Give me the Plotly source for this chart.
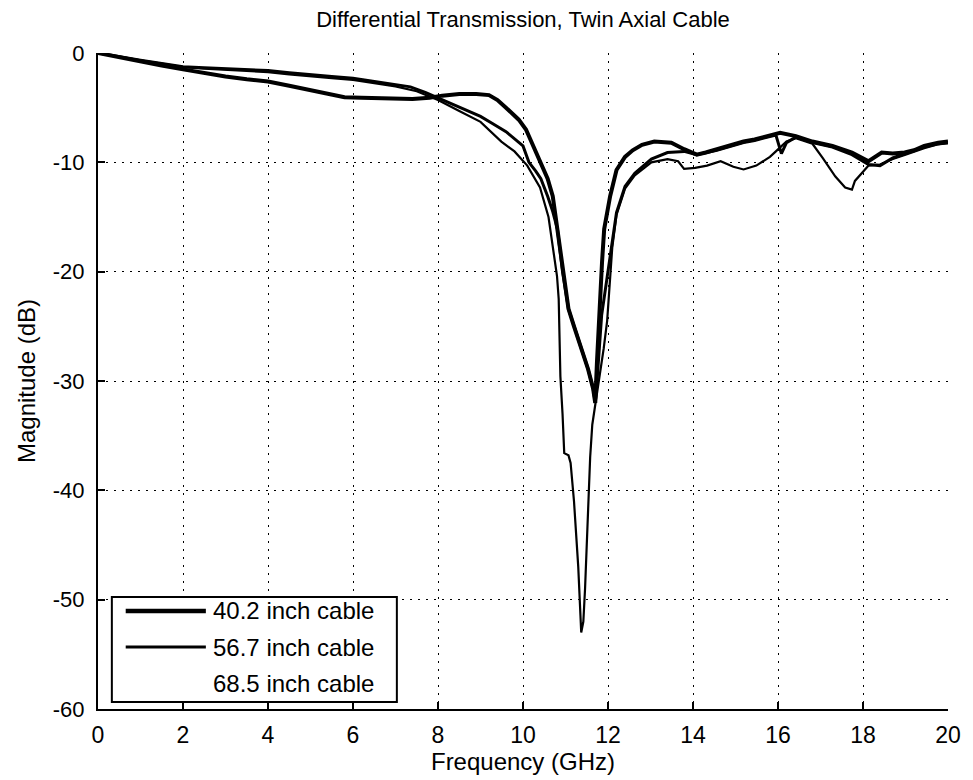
import plotly.graph_objects as go

# ---------------- data ----------------
freq_40 = [0, 0.5, 1, 1.5, 2, 2.5, 3, 3.5, 4, 4.5, 5, 5.5, 5.8, 6.2, 6.6, 7.0, 7.4, 7.8,
           8.1, 8.5, 8.9, 9.2, 9.4, 9.6, 9.9, 10.07, 10.2, 10.42, 10.58, 10.7, 10.81,
           10.93, 11.07, 11.2, 11.35, 11.53, 11.65, 11.7, 11.74, 11.81, 11.86, 11.91,
           12.05, 12.2, 12.4, 12.58, 12.8, 13.09, 13.49, 13.79, 14.09, 14.3, 14.56,
           14.9, 15.19, 15.45, 15.72, 16.05, 16.42, 16.81, 17.28, 17.74, 18.13, 18.44,
           18.7, 18.98, 19.2, 19.44, 19.77, 20]
mag_40 = [0, -0.4, -0.75, -1.15, -1.5, -1.85, -2.15, -2.4, -2.6, -3.0, -3.4, -3.8, -4.05,
          -4.1, -4.15, -4.2, -4.2, -4.1, -3.9, -3.75, -3.75, -3.85, -4.3, -5.0, -6.1,
          -7.0, -8.2, -10.0, -11.5, -13.1, -16.1, -20.0, -23.4, -25.0, -26.8, -28.9,
          -30.7, -32.0, -28.3, -22.2, -19.1, -16.1, -13.1, -10.7, -9.5, -8.9, -8.4,
          -8.1, -8.2, -8.8, -9.3, -9.1, -8.8, -8.4, -8.1, -7.9, -7.6, -7.3, -7.6, -8.1,
          -8.5, -9.1, -9.9, -9.1, -9.2, -9.1, -8.9, -8.5, -8.2, -8.1]

freq_56 = [0, 0.5, 1, 1.5, 2, 2.5, 3, 3.5, 4, 4.5, 5, 5.5, 6, 6.5, 7, 7.35, 7.7, 8.0,
           8.5, 9.0, 9.3, 9.6, 10.0, 10.14, 10.3, 10.42, 10.58, 10.7, 10.81, 10.93,
           11.07, 11.2, 11.35, 11.53, 11.65, 11.7, 11.76, 11.85, 11.98, 12.09, 12.2,
           12.4, 12.63, 13.02, 13.4, 13.79, 14.09, 14.56, 14.9, 15.19, 15.45, 15.72,
           15.95, 16.08, 16.2, 16.42, 16.81, 17.28, 17.74, 18.13, 18.4, 18.7, 18.98,
           19.44, 19.77, 20]
mag_56 = [0, -0.35, -0.65, -0.95, -1.25, -1.35, -1.45, -1.5, -1.6, -1.8, -2.0, -2.15,
          -2.3, -2.6, -2.9, -3.1, -3.6, -4.1, -5.0, -5.8, -6.5, -7.2, -8.5, -10.0,
          -10.8, -11.5, -13.1, -14.5, -16.1, -20.0, -23.4, -25.0, -26.8, -28.9, -30.7,
          -32.0, -29.0, -24.0, -20.5, -17.6, -14.6, -12.2, -11.0, -9.7, -9.1, -9.0,
          -9.3, -8.9, -8.5, -8.2, -8.0, -7.7, -7.5, -9.2, -8.2, -7.7, -8.2, -8.6, -9.3,
          -10.2, -10.3, -9.6, -9.2, -8.6, -8.3, -8.2]

freq_68 = [0, 0.5, 1, 1.5, 2, 2.5, 3, 3.5, 4, 4.5, 5, 5.5, 6, 6.5, 7, 7.5, 8.0, 8.5,
           9.0, 9.49, 9.8, 10.1, 10.4, 10.6, 10.8, 10.84, 10.88, 10.93, 10.97, 11.07,
           11.12, 11.2, 11.3, 11.37, 11.42, 11.46, 11.5, 11.54, 11.58, 11.63, 11.75,
           11.9, 11.98, 12.03, 12.1, 12.2, 12.4, 12.63, 13.02, 13.4, 13.65, 13.79,
           14.05, 14.33, 14.65, 14.95, 15.19, 15.49, 15.81, 15.95, 16.2, 16.42, 16.81,
           17.05, 17.35, 17.58, 17.74, 17.81, 17.98, 18.13, 18.4, 18.7, 19.0, 19.44,
           19.77, 20]
mag_68 = [0, -0.37, -0.68, -0.98, -1.3, -1.42, -1.55, -1.62, -1.75, -1.95, -2.15,
          -2.3, -2.45, -2.75, -3.05, -3.5, -4.3, -5.3, -6.3, -8.1, -9.0, -10.3, -12.3,
          -15.0, -20.4, -22.5, -29.6, -33.0, -36.6, -36.8, -37.5, -41.0, -47.0, -53.0,
          -52.0, -49.0, -45.0, -41.0, -37.0, -34.0, -31.0, -27.0, -24.5, -21.5, -17.8,
          -14.8, -12.4, -11.2, -10.0, -9.7, -9.9, -10.6, -10.5, -10.3, -9.9, -10.4,
          -10.65, -10.3, -9.5, -9.0, -8.1, -7.8, -8.3, -9.6, -11.3, -12.3, -12.5,
          -11.7, -10.9, -10.3, -10.2, -9.7, -9.3, -8.7, -8.35, -8.25]

series_names = ["40.2 inch cable", "56.7 inch cable", "68.5 inch cable"]

x_ticks = [0, 2, 4, 6, 8, 10, 12, 14, 16, 18, 20]
x_ticktext = ["0", "2", "4", "6", "8", "10", "12", "14", "16", "18", "20"]
y_ticks = [0, -10, -20, -30, -40, -50, -60]
y_ticktext = ["0", "-10", "-20", "-30", "-40", "-50", "-60"]

FONT = "Liberation Sans, Arial, Helvetica, sans-serif"

fig = go.Figure()
fig.add_trace(go.Scatter(x=freq_68, y=mag_68, mode="lines", name=series_names[2],
                         line=dict(color="black", width=2.2), showlegend=False))
fig.add_trace(go.Scatter(x=freq_56, y=mag_56, mode="lines", name=series_names[1],
                         line=dict(color="black", width=3), showlegend=False))
fig.add_trace(go.Scatter(x=freq_40, y=mag_40, mode="lines", name=series_names[0],
                         line=dict(color="black", width=4), showlegend=False))

# ---- MATLAB-style legend box (paper coordinates) ----
shapes = [dict(type="rect", xref="paper", yref="paper", x0=0.0163, x1=0.3516,
               y0=0.0107, y1=0.1707, line=dict(color="black", width=2),
               fillcolor="white", layer="above")]
rows_y = [0.1494, 0.0945, 0.0396]
row_w = [4.5, 3, 0]
annotations = []
for name, ry, w in zip(series_names, rows_y, row_w):
    if w > 0:
        shapes.append(dict(type="line", xref="paper", yref="paper", x0=0.0326, x1=0.1269,
                           y0=ry, y1=ry, line=dict(color="black", width=w), layer="above"))
    annotations.append(dict(text=name, xref="paper", yref="paper", x=0.1327, y=ry,
                            xanchor="left", yanchor="middle", showarrow=False,
                            font=dict(family=FONT, size=24, color="black")))

fig.update_layout(
    width=973, height=780,
    margin=dict(l=98, r=16, t=53, b=71),
    paper_bgcolor="white", plot_bgcolor="white",
    font=dict(family=FONT, size=22, color="black"),
    title=dict(text="Differential Transmission, Twin Axial Cable", x=0.5, xref="paper",
               xanchor="center", y=1 - 19 / 780, yref="container", yanchor="middle",
               font=dict(family=FONT, size=22, color="black")),
    shapes=shapes, annotations=annotations, showlegend=False,
)
fig.update_xaxes(
    range=[0, 20], tickvals=x_ticks, ticktext=x_ticktext,
    showgrid=True, gridcolor="black", gridwidth=1.3, griddash="2px,6px",
    showline=True, linecolor="black", linewidth=2, mirror=False,
    ticks="inside", ticklen=7, tickwidth=2, tickcolor="black", zeroline=False,
    tickfont=dict(family=FONT, size=23), ticklabelstandoff=4,
    title=dict(text="Frequency (GHz)", font=dict(family=FONT, size=24), standoff=4),
)
fig.update_yaxes(
    range=[-60, 0], tickvals=y_ticks, ticktext=y_ticktext,
    showgrid=True, gridcolor="black", gridwidth=1.3, griddash="2px,6px",
    showline=True, linecolor="black", linewidth=2, mirror=False,
    ticks="inside", ticklen=7, tickwidth=2, tickcolor="black", zeroline=False,
    tickfont=dict(family=FONT, size=22), ticklabelstandoff=7,
    title=dict(text="Magnitude (dB)", font=dict(family=FONT, size=24), standoff=10),
)

fig.write_html("out.html")
